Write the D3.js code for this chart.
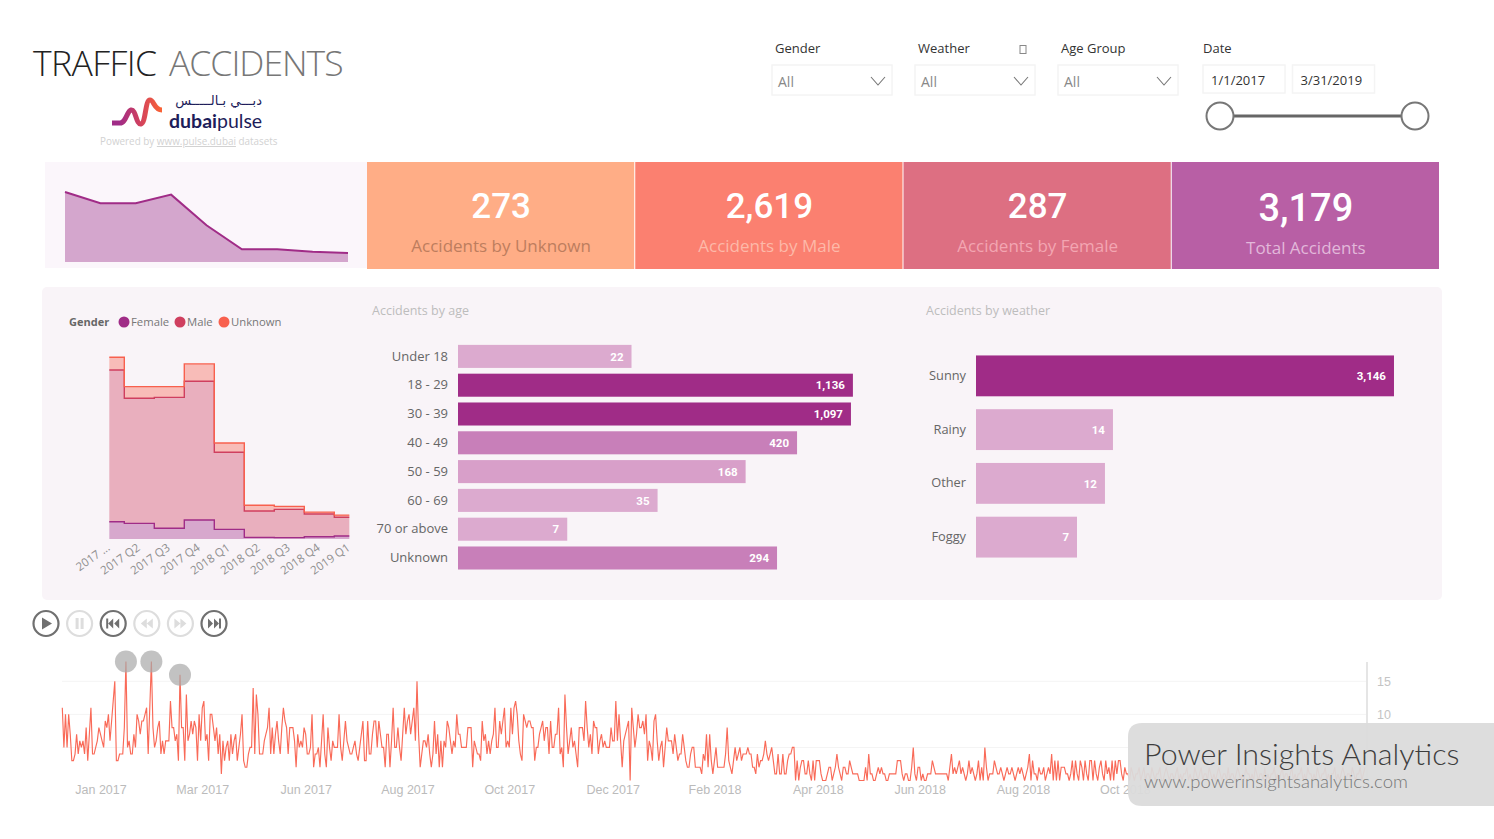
<!DOCTYPE html>
<html lang="en">
<head>
    <meta charset="UTF-8">
    <title>Traffic Accidents</title>
    <script src="https://d3js.org/d3.v7.min.js"></script>
    <style>
        html, body { margin: 0; background: #fff; }
        svg { display: block; font-family: "Open Sans", sans-serif; }
    </style>
</head>
<body>
    <svg></svg>

    <script>
        const w = 1494;
        const h = 839;

        const slicerNames = ['Gender', 'Weather', 'Age Group'];
        const kpiValues = ['273', '2,619', '287', '3,179'];
        const kpiLabels = ['Accidents by Unknown', 'Accidents by Male', 'Accidents by Female', 'Total Accidents'];

        const quarters = ['2017 ...', '2017 Q2', '2017 Q3', '2017 Q4', '2018 Q1', '2018 Q2', '2018 Q3', '2018 Q4', '2019 Q1'];
        const quarterTotals = [662, 555, 555, 637, 347, 120, 120, 98, 85];
        const femaleByQuarter = [63, 57, 39, 69, 35, 6, 5, 8, 11];
        const maleByQuarter = [553, 456, 477, 506, 281, 96, 103, 83, 68];
        const unknownByQuarter = [46, 42, 39, 63, 34, 21, 11, 7, 8];

        const ageGroups = ['Under 18', '18 - 29', '30 - 39', '40 - 49', '50 - 59', '60 - 69', '70 or above', 'Unknown'];
        const ageCounts = [22, 1136, 1097, 420, 168, 35, 7, 294];

        const weatherTypes = ['Sunny', 'Rainy', 'Other', 'Foggy'];
        const weatherCounts = [3146, 14, 12, 7];

        // one value per day from 1 Jan 2017
        const dailyCounts = [
            11,5,10,5,10,7,3,3,4,7,4,6,5,6,4,8,3,7,11,4,
            4,5,6,8,7,6,5,9,8,10,6,9,12,15,3,3,4,4,4,8,
            18,5,6,4,4,7,5,10,9,7,9,9,10,11,4,11,18,8,5,6,
            8,9,4,6,4,6,6,6,12,8,8,6,7,3,16,8,8,3,13,6,
            7,9,7,9,8,3,10,6,11,12,6,7,3,10,10,8,6,8,4,7,
            1,6,3,5,6,3,7,4,6,7,3,5,7,10,3,2,2,4,5,5,
            14,4,13,10,4,4,4,6,7,8,11,4,8,4,7,9,6,4,8,11,
            9,8,4,8,8,8,6,2,7,5,6,5,8,7,4,4,5,10,2,4,
            4,5,2,6,10,4,2,8,5,3,6,5,5,5,10,5,3,6,9,6,
            5,4,4,5,6,4,3,5,7,9,3,3,9,4,4,7,9,9,5,9,
            7,5,5,2,7,7,2,6,11,5,5,8,5,3,7,11,7,9,10,7,
            9,11,6,15,7,2,4,6,6,5,7,4,2,4,9,4,7,2,6,2,
            6,5,9,8,6,4,6,5,10,7,7,5,5,5,5,8,8,8,2,6,
            5,4,4,3,9,6,7,4,6,4,6,7,11,5,5,9,7,9,11,5,
            6,5,11,7,11,12,10,6,4,3,10,9,8,9,9,8,8,3,5,5,
            7,8,9,6,8,8,4,9,5,5,7,7,11,4,5,2,13,8,4,6,
            8,5,6,4,2,8,8,8,6,12,8,5,7,4,9,8,8,4,6,7,
            5,6,5,5,5,8,6,6,12,6,10,6,2,6,7,8,9,0,11,8,
            5,7,10,8,8,9,7,10,3,6,5,3,9,10,6,3,5,6,2,5,
            8,6,6,6,4,7,5,3,4,4,7,5,3,2,2,4,5,5,2,2,
            2,2,1,4,3,7,2,7,3,1,3,5,2,2,2,2,2,4,8,3,
            2,1,3,5,3,4,5,3,4,4,4,5,4,4,2,2,1,4,2,3,
            3,4,6,4,3,4,5,3,1,1,4,1,1,4,1,1,3,4,4,5,
            5,0,3,0,2,3,3,1,1,3,1,0,3,0,3,3,3,1,0,0,
            0,1,2,2,0,1,2,4,2,1,0,2,2,1,1,3,2,1,1,1,
            1,0,0,0,0,2,0,4,1,1,0,0,1,2,1,2,1,1,0,0,
            1,1,1,1,1,3,3,3,1,0,1,1,0,0,2,5,1,0,2,2,
            0,1,0,0,1,1,1,3,2,1,1,1,1,1,1,1,1,0,2,4,
            1,2,1,2,3,1,2,1,0,1,3,1,2,1,0,1,3,0,2,0,
            5,2,0,1,1,1,3,2,1,1,2,1,0,1,2,1,1,2,1,0,
            1,2,1,2,1,0,1,2,4,0,3,1,1,0,2,1,1,2,0,1,
            2,1,4,0,3,0,3,0,2,2,2,1,1,0,1,3,0,3,1,0,
            3,2,0,3,1,0,3,3,0,3,1,0,2,3,1,0,3,1,2,0,
            3,0,3,1,3,3,1,0,2,1,1,0,2,1,0,1,1,2,0,1,
            2,0,1,1,0,2,1,0,1,1,2,0,0,1,2,1,0,1,1,0,
            1,2,0,1,0,1,1,2,0,1,0,0,2,1,0,1,2,0,1,1,
            0,2,1,0,1,0,1,2,1,0,1,1,0,2,0,1,1,0,1,2,
            1,0,1,0,2,1,1,0,1,0,2,1,0,1,1,0,2,0,1,0,
            1,1,2,0,1,0,1,2,0,1,1,0,1,2,0,1,0,1,1,2,
            0,1,0,2,1,1,0,1,0,2,1,0,1,1,2,0,1,0,1,1,
            2,0,1,0,1,2,1,0,1,1,0,2,1,0,1,1,2,0,1,2
        ];
        const flaggedDays = [40, 56, 74];
        const dayTicks = ['2017-01-25', '2017-03-30', '2017-06-03', '2017-08-06', '2017-10-09', '2017-12-13', '2018-02-15', '2018-04-21', '2018-06-24', '2018-08-28', '2018-10-31'];
        const gridTicks = [5, 10, 15];
        const countTicks = [10, 15];

        const purple = '#a02c87';
        const red = '#f8604e';
        const rose = '#cf3f5f';

        const svg = d3.select('svg').attr('width', w).attr('height', h);
        const defs = svg.append('defs');

        // title and logo
        const title = svg.append('text').attr('x', 33).attr('y', 76).attr('font-family', 'Open Sans').attr('font-weight', 300).attr('font-size', 35.5).attr('letter-spacing', -0.6);
        title.append('tspan').attr('fill', '#222').text('TRAFFIC');
        title.append('tspan').attr('x', 169).attr('fill', '#777').attr('letter-spacing', -1).text('ACCIDENTS');

        const grad = defs.append('linearGradient').attr('id', 'pulse').attr('gradientUnits', 'userSpaceOnUse')
            .attr('x1', 112).attr('x2', 162).attr('y1', 0).attr('y2', 0);
        grad.append('stop').attr('offset', '0.15').attr('stop-color', purple);
        grad.append('stop').attr('offset', '0.55').attr('stop-color', '#d0405f');
        grad.append('stop').attr('offset', '1').attr('stop-color', '#fb6434');
        svg.append('path')
            .attr('d', 'M112,123 L120,123 C126,123 127,111 131,110 C136,109 136,125 141,124 C146,123 145,100 150,100 C154,100 154,110 162,110')
            .attr('fill', 'none').attr('stroke', 'url(#pulse)').attr('stroke-width', 5);
        svg.append('text').attr('x', 262).attr('y', 105).attr('text-anchor', 'start').attr('direction', 'rtl')
            .attr('font-family', 'DejaVu Sans').attr('font-size', 13).attr('fill', '#1d1d5a').text('دبـــي بـالـــــس');
        const logoText = svg.append('text').attr('x', 169).attr('y', 128).attr('font-size', 19.5).attr('fill', '#1d1d5a').attr('font-family', 'Lato');
        logoText.append('tspan').attr('font-weight', 700).text('dubai');
        logoText.append('tspan').text('pulse');
        const powered = svg.append('text').attr('x', 100).attr('y', 145).attr('font-size', 9.9).attr('fill', '#d2d2d2');
        powered.append('tspan').text('Powered by ');
        powered.append('tspan').attr('text-decoration', 'underline').text('www.pulse.dubai');
        powered.append('tspan').text(' datasets');

        // slicers
        const slicerX = d3.scalePoint().domain(slicerNames).range([772, 1058]);
        const slicers = svg.append('g').selectAll('g').data(slicerNames).enter().append('g')
            .attr('transform', d => `translate(${slicerX(d)},0)`);
        slicers.append('text').attr('x', 3).attr('y', 53).attr('font-size', 13).attr('fill', '#333').text(d => d);
        slicers.append('rect').attr('y', 65).attr('width', 120).attr('height', 30).attr('fill', '#fff').attr('stroke', '#f4f4f4').attr('stroke-width', 1.5);
        slicers.append('text').attr('x', 6).attr('y', 87).attr('font-size', 14).attr('fill', '#888').text('All');
        slicers.append('path').attr('d', 'M99,77 L106,85 L113,77').attr('fill', 'none').attr('stroke', '#777').attr('stroke-width', 1.1);
        svg.append('rect').attr('x', 1020).attr('y', 45.5).attr('width', 6).attr('height', 8).attr('fill', 'none').attr('stroke', '#888');

        svg.append('text').attr('x', 1203).attr('y', 53).attr('font-size', 13).attr('fill', '#333').text('Date');
        const dateBoxes = svg.append('g').selectAll('g').data(['1/1/2017', '3/31/2019']).enter().append('g')
            .attr('transform', (d, i) => `translate(${1203 + i * 89.5},0)`);
        dateBoxes.append('rect').attr('y', 65).attr('width', 82).attr('height', 28).attr('fill', '#fff').attr('stroke', '#f4f4f4').attr('stroke-width', 1.5);
        dateBoxes.append('text').attr('x', 8).attr('y', 84.5).attr('font-size', 13).attr('fill', '#333').text(d => d);
        svg.append('line').attr('x1', 1220).attr('x2', 1415).attr('y1', 116).attr('y2', 116).attr('stroke', '#666').attr('stroke-width', 3);
        svg.append('g').selectAll('circle').data([1220, 1415]).enter().append('circle')
            .attr('cx', d => d).attr('cy', 116).attr('r', 13.5).attr('fill', '#fff').attr('stroke', '#777').attr('stroke-width', 2);

        // sparkline panel
        svg.append('rect').attr('x', 45).attr('y', 162).attr('width', 322).attr('height', 106).attr('fill', '#fbf6fb');
        const sparkX = d3.scalePoint().domain(quarters).range([65, 348]);
        const sparkY = d3.scaleLinear().domain([0, 662]).range([262, 192]);
        svg.append('path').datum(quarterTotals)
            .attr('d', d3.area().x((d, i) => sparkX(quarters[i])).y0(sparkY(0)).y1(d => sparkY(d)))
            .attr('fill', '#d4a6cd');
        svg.append('path').datum(quarterTotals)
            .attr('d', d3.line().x((d, i) => sparkX(quarters[i])).y(d => sparkY(d)))
            .attr('fill', 'none').attr('stroke', purple).attr('stroke-width', 2);

        // kpi cards
        const kpiX = d3.scaleBand().domain(kpiLabels).range([367, 1440]);
        const kpiFill = d3.scaleOrdinal().domain(kpiLabels).range(['#ffad86', '#fb8070', '#dd6f82', '#b85fa5']);
        const kpiInk = d3.scaleOrdinal().domain(kpiLabels).range(['#bd7d5e', '#fdb9a9', '#f3a6b2', '#e2b8da']);
        const cards = svg.append('g').selectAll('g').data(kpiLabels).enter().append('g')
            .attr('transform', d => `translate(${kpiX(d)},162)`);
        cards.append('rect').attr('width', kpiX.bandwidth() - 1).attr('height', 107).attr('fill', d => kpiFill(d));
        cards.append('text').attr('x', kpiX.bandwidth() / 2).attr('y', (d, i) => i === 3 ? 59 : 56).attr('text-anchor', 'middle')
            .attr('font-family', 'Roboto').attr('font-weight', 500).attr('font-size', (d, i) => i === 3 ? 38 : 35).attr('fill', '#fff')
            .text((d, i) => kpiValues[i]);
        cards.append('text').attr('x', kpiX.bandwidth() / 2).attr('y', (d, i) => i === 3 ? 92 : 89.5).attr('text-anchor', 'middle')
            .attr('font-size', 17).attr('fill', d => kpiInk(d)).text(d => d);

        // main panel
        svg.append('rect').attr('x', 42).attr('y', 287).attr('width', 1400).attr('height', 313).attr('rx', 5).attr('fill', '#f9f4f8');

        // legend
        svg.append('text').attr('x', 69).attr('y', 326).attr('font-size', 11).attr('font-weight', 700).attr('fill', '#666').text('Gender');
        const legend = svg.append('g').selectAll('g')
            .data([['Female', purple, 124], ['Male', rose, 180], ['Unknown', red, 224]]).enter().append('g')
            .attr('transform', d => `translate(${d[2]},322)`);
        legend.append('circle').attr('r', 5.5).attr('fill', d => d[1]);
        legend.append('text').attr('x', 7).attr('y', 4).attr('font-size', 11.3).attr('fill', '#777').text(d => d[0]);

        // stacked quarters
        const genders = ['female', 'male', 'unknown'];
        const genderRows = quarters.map((q, i) => ({ q, female: femaleByQuarter[i], male: maleByQuarter[i], unknown: unknownByQuarter[i] }));
        const layers = d3.stack().keys(genders)(genderRows);
        const stackColor = d3.scaleOrdinal().domain(genders).range([purple, rose, red]);
        const stackX = d3.scalePoint().domain(quarters).range([109.3, 349.3]);
        const stackY = d3.scaleLinear().domain([0, 662]).range([539, 357.3]);
        const stackArea = d3.area().curve(d3.curveStep).x(d => stackX(d.data.q)).y0(d => stackY(d[0])).y1(d => stackY(d[1]));
        const stackLine = d3.line().curve(d3.curveStep).x(d => stackX(d.data.q)).y(d => stackY(d[1]));
        const stackG = svg.append('g');
        stackG.selectAll('.layer').data(layers).enter().append('path').attr('class', 'layer')
            .attr('d', stackArea).attr('fill', d => stackColor(d.key)).attr('fill-opacity', 0.38);
        stackG.selectAll('.edge').data(layers).enter().append('path').attr('class', 'edge')
            .attr('d', stackLine).attr('fill', 'none').attr('stroke', d => stackColor(d.key)).attr('stroke-width', 1.4);
        const stackAxis = svg.append('g').attr('transform', 'translate(-4,537)')
            .call(d3.axisBottom(stackX).tickSize(0));
        stackAxis.select('.domain').remove();
        stackAxis.selectAll('text')
            .attr('text-anchor', 'end').attr('transform', 'rotate(-35)').attr('x', -3).attr('y', 9).attr('dy', '0.35em')
            .attr('font-family', 'Open Sans').attr('font-size', 11.5).attr('fill', '#8f8f8f');

        // bar charts, both on log scales
        const barFill = d3.scaleThreshold().domain([100, 200, 1000]).range(['#dcaacf', '#d89fc9', '#c87fb9', purple]);

        function hBars(title, titleX, names, values, left, top, bottom, pad, fontSize, labelSize, right) {
            const x = d3.scaleLog().domain([1, 10000]).range([left, right]);
            const y = d3.scaleBand().domain(names).range([top, bottom]).paddingInner(pad).paddingOuter(pad / 2);
            const g = svg.append('g');
            svg.append('text').attr('x', titleX).attr('y', 315).attr('font-size', 12.5).attr('fill', '#bdbdbd').text(title);
            g.selectAll('rect').data(names).enter().append('rect')
                .attr('x', left).attr('y', d => y(d)).attr('height', y.bandwidth())
                .attr('width', (d, i) => x(values[i]) - left).attr('fill', (d, i) => barFill(values[i]));
            g.selectAll('.val').data(names).enter().append('text').attr('class', 'val')
                .attr('x', (d, i) => x(values[i]) - 8).attr('y', d => y(d) + y.bandwidth() / 2).attr('dy', '0.36em')
                .attr('text-anchor', 'end').attr('font-family', 'Roboto').attr('font-weight', 700).attr('font-size', labelSize).attr('fill', '#fff')
                .text((d, i) => d3.format(',')(values[i]));
            const axis = g.append('g').attr('transform', `translate(${left},0)`).call(d3.axisLeft(y).tickSize(0).tickPadding(10));
            axis.select('.domain').remove();
            axis.selectAll('text').attr('font-family', 'Open Sans').attr('font-size', fontSize).attr('fill', '#666');
        }
        hBars('Accidents by age', 372, ageGroups, ageCounts, 458, 342, 572.4, 0.2, 13, 11.5, 975);
        hBars('Accidents by weather', 926, weatherTypes, weatherCounts, 976, 349, 564, 0.24, 12.8, 11.5, 1454);

        // play axis buttons
        const buttons = [['play', 1], ['pause', 0], ['first', 1], ['back', 0], ['forward', 0], ['last', 1]];
        const buttonIcons = {
            play: 'M-4,-6 L6,0 L-4,6 Z',
            pause: 'M-4,-5.5 H-1 V5.5 H-4 Z M1,-5.5 H4 V5.5 H1 Z',
            first: 'M-7,-5 H-5 V5 H-7 Z M0,-5 L-5,0 L0,5 Z M6,-5 L1,0 L6,5 Z',
            back: 'M0,-5 L-6,0 L0,5 Z M6,-5 L0,0 L6,5 Z',
            forward: 'M-6,-5 L0,0 L-6,5 Z M0,-5 L6,0 L0,5 Z',
            last: 'M7,-5 H5 V5 H7 Z M0,-5 L5,0 L0,5 Z M-6,-5 L-1,0 L-6,5 Z'
        };
        const btn = svg.append('g').selectAll('g').data(buttons).enter().append('g')
            .attr('transform', (d, i) => `translate(${46 + i * 33.6},623.5)`);
        btn.append('circle').attr('r', 12.5).attr('fill', '#fff').attr('stroke-width', 2.2).attr('stroke', d => d[1] ? '#707070' : '#ddd');
        btn.append('path').attr('d', d => buttonIcons[d[0]]).attr('fill', d => d[1] ? '#707070' : '#ddd');

        // daily line
        const parseDay = d3.utcParse('%Y-%m-%d');
        const firstDay = parseDay('2017-01-01');
        const dayOf = i => d3.utcDay.offset(firstDay, i);
        const dayX = d3.scaleUtc().domain([firstDay, dayOf(819)]).range([62.3, 1365]);
        const countY = d3.scaleLinear().domain([0, 15]).range([780.5, 681.3]);

        svg.append('g').selectAll('line').data(gridTicks).enter().append('line')
            .attr('x1', 62).attr('x2', 1366).attr('y1', d => countY(d)).attr('y2', d => countY(d))
            .attr('stroke', '#f4f4f4');
        svg.append('line').attr('x1', 1367).attr('x2', 1367).attr('y1', 662).attr('y2', 781).attr('stroke', '#ddd').attr('stroke-width', 1.5);

        const dayAxis = svg.append('g').attr('transform', 'translate(0,780)')
            .call(d3.axisBottom(dayX).tickValues(dayTicks.map(parseDay)).tickFormat(d3.utcFormat('%b %Y')).tickSize(0));
        dayAxis.select('.domain').remove();
        dayAxis.selectAll('text').attr('y', 5).attr('font-family', 'Liberation Sans').attr('font-size', 12.5).attr('fill', '#bbb');

        const countAxis = svg.append('g').attr('transform', 'translate(1367,0)')
            .call(d3.axisRight(countY).tickValues(countTicks).tickSize(0).tickPadding(10));
        countAxis.select('.domain').remove();
        countAxis.selectAll('text').attr('font-family', 'Liberation Sans').attr('font-size', 12.5).attr('fill', '#c4c4c4');

        svg.append('path').datum(dailyCounts)
            .attr('d', d3.line().x((d, i) => dayX(dayOf(i))).y(d => countY(d)))
            .attr('fill', 'none').attr('stroke', '#f96a58').attr('stroke-width', 1.15);
        svg.append('g').selectAll('circle').data(flaggedDays).enter().append('circle')
            .attr('cx', d => dayX(dayOf(d))).attr('cy', d => countY(dailyCounts[d])).attr('r', 11)
            .attr('fill', '#a8a8a8').attr('fill-opacity', 0.7);

        // watermark
        svg.append('path').attr('d', 'M1494,723 H1142 Q1128,723 1128,737 V792 Q1128,806 1142,806 H1494 Z').attr('fill', '#dbdbdb').attr('fill-opacity', 0.94);
        svg.append('text').attr('x', 1144).attr('y', 765).attr('font-family', 'Lato').attr('font-weight', 300).attr('font-size', 30.4).attr('fill', '#3d3d3d').text('Power Insights Analytics');
        svg.append('text').attr('x', 1144).attr('y', 788).attr('font-family', 'Lato').attr('font-weight', 300).attr('font-size', 18.5).attr('fill', '#777').text('www.powerinsightsanalytics.com');
    </script>
</body>
</html>
